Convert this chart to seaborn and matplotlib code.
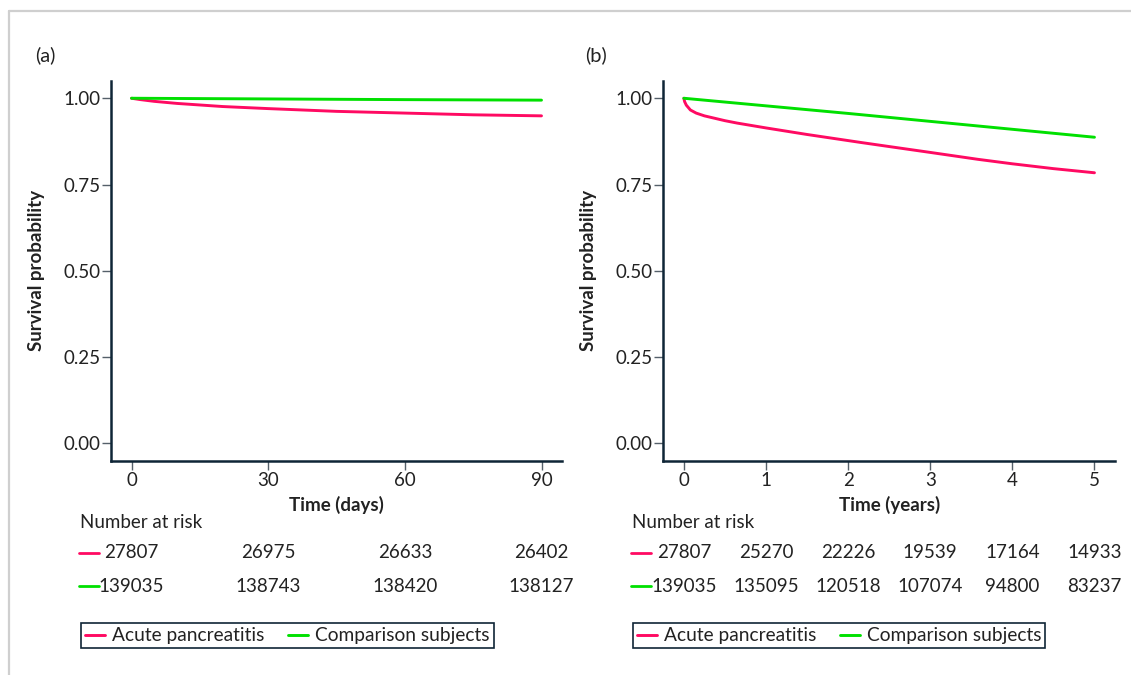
import numpy as np
import pandas as pd
import seaborn as sns
import matplotlib.pyplot as plt
from matplotlib.lines import Line2D
from matplotlib.transforms import blended_transform_factory

# ── data ───────────────────────────────────────────────────────
groups = ['Acute pancreatitis', 'Comparison subjects']
colors = {'Acute pancreatitis': '#FF0A62', 'Comparison subjects': '#00E000'}

# (a) 90-day survival
days_ap = [0, 2, 5, 10, 20, 30, 45, 60, 75, 90]
surv_days_ap = [1.0, 0.996, 0.991, 0.985, 0.976, 0.970, 0.962, 0.957, 0.952, 0.949]
days_cmp = [0, 30, 60, 90]
surv_days_cmp = [1.0, 0.998, 0.996, 0.9945]

# (b) 5-year survival
years_ap = [0, 0.01, 0.03, 0.08, 0.15, 0.25, 0.5, 0.65, 1.0, 1.5, 2.15, 2.5, 3.0, 3.58, 4.0, 4.5, 5.0]
surv_years_ap = [1.0, 0.990, 0.980, 0.966, 0.957, 0.949, 0.935, 0.928, 0.914, 0.895,
                 0.872, 0.860, 0.843, 0.823, 0.810, 0.796, 0.784]
years_cmp = [0, 1, 2, 3, 4, 5]
surv_years_cmp = [1.0, 0.978, 0.956, 0.933, 0.910, 0.887]

# number at risk
risk_days = [0, 30, 60, 90]
risk_days_ap = [27807, 26975, 26633, 26402]
risk_days_cmp = [139035, 138743, 138420, 138127]
risk_years = [0, 1, 2, 3, 4, 5]
risk_years_ap = [27807, 25270, 22226, 19539, 17164, 14933]
risk_years_cmp = [139035, 135095, 120518, 107074, 94800, 83237]

df_a = pd.concat([
    pd.DataFrame({'t': days_ap, 's': surv_days_ap, 'g': groups[0]}),
    pd.DataFrame({'t': days_cmp, 's': surv_days_cmp, 'g': groups[1]}),
])
df_b = pd.concat([
    pd.DataFrame({'t': years_ap, 's': surv_years_ap, 'g': groups[0]}),
    pd.DataFrame({'t': years_cmp, 's': surv_years_cmp, 'g': groups[1]}),
])

# ── style ──────────────────────────────────────────────────────
sns.set_style('ticks')
plt.rcParams['font.family'] = ['Lato', 'DejaVu Sans']
dark = '#0f2536'
txtc = '#222222'
FS = 13.5

W, H = 1131, 675
fig = plt.figure(figsize=(W / 100, H / 100), dpi=100)


def px(x, y):
    return x / W, 1 - y / H


ax_a = fig.add_axes([111 / W, 1 - 460.5 / H, 451 / W, 379.5 / H])
ax_b = fig.add_axes([663.3 / W, 1 - 460.5 / H, 451.7 / W, 379.5 / H])

panels = [
    (ax_a, df_a, (-4.5, 94.5), [0, 30, 60, 90], 'Time (days)', '(a)', 35,
     risk_days, risk_days_ap, risk_days_cmp, 80, 79, 80.7),
    (ax_b, df_b, (-0.25, 5.25), [0, 1, 2, 3, 4, 5], 'Time (years)', '(b)', 585,
     risk_years, risk_years_ap, risk_years_cmp, 631.8, 630.8, 632.5),
]

for (ax, d, xl, xt, xlab, tag, tag_x, rt, r_ap, r_cmp,
     nar_x, mark_x, leg_x) in panels:
    sns.lineplot(data=d, x='t', y='s', hue='g', palette=colors,
                 hue_order=groups, linewidth=2.1, ax=ax)
    ax.set_xlim(*xl)
    ax.set_ylim(-0.05, 1.05)
    ax.set_xticks(xt)
    ax.set_yticks([0, 0.25, 0.5, 0.75, 1.0])
    ax.set_yticklabels(['0.00', '0.25', '0.50', '0.75', '1.00'])
    for side in ['top', 'right']:
        ax.spines[side].set_visible(False)
    for side in ['left', 'bottom']:
        ax.spines[side].set_color(dark)
        ax.spines[side].set_linewidth(1.8)
    ax.tick_params(axis='both', length=6.5, width=1.0, color='#55606a',
                   labelsize=FS, labelcolor=txtc)
    ax.tick_params(axis='x', pad=2)
    ax.tick_params(axis='y', pad=1)
    ax.set_xlabel(xlab, fontsize=FS, fontweight='bold', color=txtc)
    ax.set_ylabel('Survival probability', fontsize=FS, fontweight='bold', color=txtc)
    ax.xaxis.set_label_coords(0.5, -0.094)
    ax.yaxis.set_label_coords(-0.147, 0.5)

    fig.text(*px(tag_x, 55), tag, fontsize=14.5, color=txtc, va='center', ha='left')

    # number at risk table
    tr = blended_transform_factory(ax.transData, fig.transFigure)
    fig.text(*px(nar_x, 523), 'Number at risk', fontsize=FS, color=txtc,
             va='center', ha='left')
    for row_y, vals, g in [(553, r_ap, groups[0]), (586, r_cmp, groups[1])]:
        for t, v in zip(rt, vals):
            ax.text(t, 1 - row_y / H, str(v), transform=tr, fontsize=FS,
                    color=txtc, ha='center', va='center', clip_on=False)
        fig.add_artist(Line2D([mark_x / W, (mark_x + 20) / W],
                              [1 - row_y / H, 1 - row_y / H],
                              color=colors[g], linewidth=2.0,
                              transform=fig.transFigure))

    handles, labels = ax.get_legend_handles_labels()
    ax.legend(handles, labels, loc='upper left', ncol=2,
              bbox_to_anchor=px(leg_x, 623), bbox_transform=fig.transFigure,
              fontsize=FS + 0.3, frameon=True, fancybox=False, edgecolor=dark,
              framealpha=1, borderaxespad=0, borderpad=0.22,
              handlelength=1.05, handletextpad=0.35, columnspacing=1.25)
    ax.get_legend().get_frame().set_linewidth(1.2)
    for txt in ax.get_legend().get_texts():
        txt.set_color(txtc)

# light grey border
fig.add_artist(Line2D([8.5 / W, 1], [1 - 10.5 / H, 1 - 10.5 / H],
                      color='#cfcfcf', linewidth=1.6, transform=fig.transFigure))
fig.add_artist(Line2D([8.5 / W, 8.5 / W], [0, 1 - 10.5 / H],
                      color='#cfcfcf', linewidth=1.6, transform=fig.transFigure))

fig.savefig('out.png', dpi=100)
